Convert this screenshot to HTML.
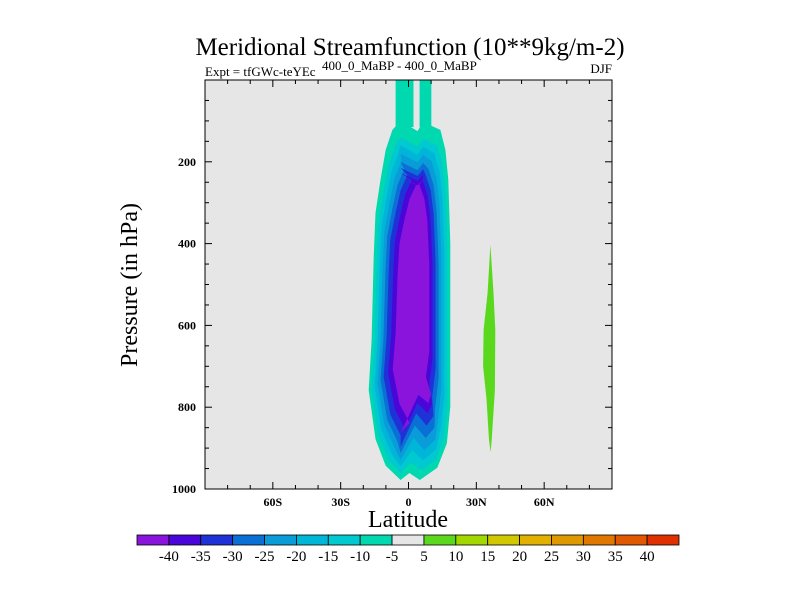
<!DOCTYPE html>
<html><head><meta charset="utf-8"><style>
body{margin:0;background:#fff;}
svg text{font-family:"Liberation Serif",serif;fill:#000;}
</style></head><body>
<svg id="chart" width="800" height="600" viewBox="0 0 800 600" xmlns="http://www.w3.org/2000/svg">
<text x="410" y="55" font-size="25" text-anchor="middle">Meridional Streamfunction (10**9kg/m-2)</text>
<text x="205" y="76" font-size="13">Expt = tfGWc-teYEc</text>
<text x="322" y="70" font-size="13">400_0_MaBP - 400_0_MaBP</text>
<text x="612" y="73" font-size="13" text-anchor="end">DJF</text>
<rect x="205" y="80" width="407" height="409" fill="#e6e6e6"/>
<g id="fills"></g>
<rect x="205" y="80" width="407" height="409" fill="none" stroke="#000" stroke-width="1"/>
<g id="ticks"></g>
<text transform="translate(137,285) rotate(-90)" font-size="24" text-anchor="middle">Pressure (in hPa)</text>
<text x="408" y="527" font-size="24" text-anchor="middle">Latitude</text>
<g id="cbar"></g>
</svg>
<script>
// ---- data ----
const levelValues = [-5, -10, -15, -20, -25, -30, -35, -40];
const levelLeft   = [-17.6, -16.3, -15.0, -13.7, -12.4, -11.0, -9.0, -7.0];
const levelRight  = [18.5, 17.2, 15.9, 14.6, 13.3, 12.0, 10.6, 9.2];
const levelTop    = [100, 140, 160, 180, 200, 215, 228, 240];
const levelBottom = [978, 962, 945, 929, 912, 896, 880, 863];
const notchLat    = [0.4, 1.0, 1.6, 2.2, 2.8, 3.4, 3.9, 4.4];
const notchP      = [961, 935, 905, 875, 845, 815, 790, 770];
const rightBotLat = [5.0, 5.8, 6.4, 7.0, 7.6, 8.0, 8.4, 8.8];
const rightBotP   = [978, 955, 930, 905, 875, 845, 815, 790];
const topColumnsLat = [[-5.7, 2.2], [4.9, 10.1]];
const greenLat = [36.2, 37.6, 38.4, 38.2, 36.8, 36.3, 35.6, 34.5, 33.0, 33.2, 35.0];
const greenP   = [403, 520, 611, 758, 880, 910, 880, 780, 700, 611, 520];
const cbarColors = ["#8a14dc","#4a06d8","#1e32d8","#0a70d6","#0a9cd8","#00b6d8","#00c9d0","#00d8b0","#e6e6e6","#5ad81e","#a2d800","#d2c800","#e2b000","#e09800","#e07800","#e05800","#e03000"];
const cbarLabels = ["-40","-35","-30","-25","-20","-15","-10","-5","5","10","15","20","25","30","35","40"];
const xTickVals = [-60, -30, 0, 30, 60];
const xTickLabels = ["60S","30S","0","30N","60N"];
const yTickVals = [200, 400, 600, 800, 1000];
const yTickLabels = ["200","400","600","800","1000"];

const NS="http://www.w3.org/2000/svg";
const X0=205,X1=612,Y0=80,Y1=489;
const xs = lat => X0 + (lat+90)/180*(X1-X0);
const ys = p => Y0 + p/1000*(Y1-Y0);
function mk(tag, attrs, parent){const e=document.createElementNS(NS,tag);for(const k in attrs)e.setAttribute(k,attrs[k]);parent.appendChild(e);return e;}
function colorFor(v){ const idx = 8 - Math.round(-v/5); return cbarColors[idx];}
const fills=document.getElementById('fills');
topColumnsLat.forEach((c,i)=>{
  const r=mk('rect',{x:xs(c[0]),y:ys(0),width:xs(c[1])-xs(c[0]),height:ys(levelTop[0]+15)-ys(0),fill:colorFor(levelValues[0])},fills);
  
  
});
levelValues.forEach((v,i)=>{
  const L=levelLeft[i],R=levelRight[i],T=levelTop[i],B=levelBottom[i];
  const rbL=rightBotLat[i],rbP=rightBotP[i];
  const f=(B-T)/878;
  const pt=o=>T+o*f;
  const pts=[
    [-3.5,T],[4,T+25*f],[6.5,T+3],[R-4.4,pt(22)],[R-2.2,pt(71)],[R-0.9,pt(144)],[R,pt(300)],
    [R,rbP-180*f],[R-1.5,rbP-90*f],[(R+rbL)/2+1,rbP-30*f],[rbL,rbP],[notchLat[i],notchP[i]],[-3.5,B],
    [L+7.5,B-35*f],[L+3,B-100*f],[L,B-220*f],[L+1.3,pt(536)],[L+2.2,pt(333)],[L+3,pt(225)],
    [L+5.2,pt(144)],[L+7.5,pt(71)],[L+10.5,pt(22)]
  ];
  const pg=mk('polygon',{points:pts.map(q=>xs(q[0]).toFixed(1)+','+ys(q[1]).toFixed(1)).join(' '),fill:colorFor(v)},fills);
  
  
});
const gp=mk('polygon',{points:greenLat.map((l,i)=>xs(l).toFixed(1)+','+ys(greenP[i]).toFixed(1)).join(' '),fill:cbarColors[9]},fills);



const tk=document.getElementById('ticks');
for(let lat=-80;lat<=80;lat+=10){
  const major = lat%30===0, len = major?7:4;
  [[Y1,-1],[Y0,1]].forEach(([y,d])=>{
    const l=mk('line',{x1:xs(lat),x2:xs(lat),y1:y,y2:y+d*len,stroke:'#000','stroke-width':1},tk);
    
    
  });
}
for(let p=50;p<1000;p+=50){
  const major = p%200===0, len = major?7:4;
  [[X0,1],[X1,-1]].forEach(([x,d])=>{
    const l=mk('line',{x1:x,x2:x+d*len,y1:ys(p),y2:ys(p),stroke:'#000','stroke-width':1},tk);
    
    
  });
}
xTickVals.forEach((v,i)=>{
  const t=mk('text',{x:xs(v),y:506,'font-size':12,'font-weight':'bold','text-anchor':'middle'},tk);
  t.textContent=xTickLabels[i];
  
  
});
yTickVals.forEach((v,i)=>{
  const t=mk('text',{x:196,y:ys(v)+4,'font-size':12,'font-weight':'bold','text-anchor':'end'},tk);
  t.textContent=yTickLabels[i];
  
  
});
const cb=document.getElementById('cbar');
const CB0=137,CB1=679,bw=(CB1-CB0)/cbarColors.length;
cbarColors.forEach((c,i)=>{
  const r=mk('rect',{x:CB0+i*bw,y:535,width:bw,height:10,fill:c,stroke:'#000','stroke-width':0.8},cb);
  
  
});
cbarLabels.forEach((s,i)=>{
  const t=mk('text',{x:CB0+(i+1)*bw,y:561,'font-size':15,'text-anchor':'middle'},cb);
  t.textContent=s;
  
  
});
</script>
</body></html>
